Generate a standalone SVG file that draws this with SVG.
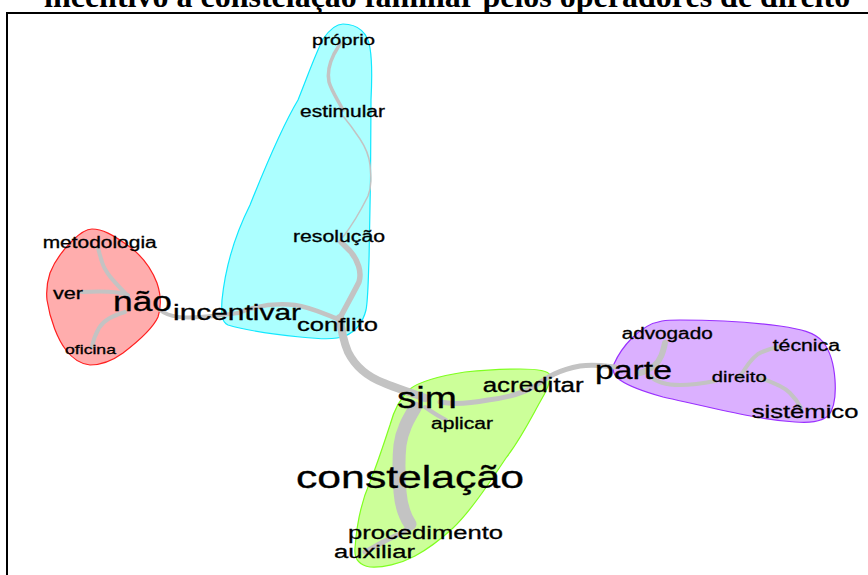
<svg xmlns="http://www.w3.org/2000/svg" width="868" height="575" viewBox="0 0 868 575">
<style>
.t{font-family:"Liberation Sans",Arial,sans-serif;fill:#000;stroke:#000;stroke-width:0.3}
.e{fill:none;stroke:#c3c3c3;stroke-linecap:round;stroke-linejoin:round}
.title{font-family:"Liberation Serif","Times New Roman",serif;font-weight:bold;font-size:32px;fill:#000}
</style>
<rect width="868" height="575" fill="#fff"/>
<text class="title" x="44" y="7">incentivo à constelação familiar pelos operadores de direito</text>
<path d="M7,575 V13 H868" fill="none" stroke="#000" stroke-width="2"/>

<g id="clusters">
<path id="cluster-red" d="M92,229 C102,229 112,234 130,247 C142,256 152,270 157,283 C161,295 161,308 158,317 C153,328 140,340 123,353 C112,361 100,365 90,365 C80,364 72,358 66,350 C58,340 50,320 47,300 C46,290 47,282 50,273 C55,260 63,250 72,241 C78,235 85,229 92,229 Z" fill="#ffadad" stroke="#ff2020" stroke-width="1.2"/>
<path id="cluster-cyan" d="M343,24 C358,24 368,33 370,48 C372,60 372,80 371,100 C371,160 370,220 369,260 C368,285 368,300 366,310 C363,322 357,331 345,336 C335,340 320,339 300,337 C270,334 245,330 228,325 C222,322 221,316 222,300 C225,270 235,235 250,205 C262,175 280,130 298,100 C308,75 315,55 323,39 C330,29 336,24 343,24 Z" fill="#acffff" stroke="#10e8ff" stroke-width="1.2"/>
<path id="cluster-green" d="M520,369 C535,369 548,370 550,375 C551,382 546,392 540,402 C530,420 520,440 506,458 C490,482 470,512 453,528 C440,540 428,549 415,556 C400,564 382,568 370,567 C358,565 354,558 355,548 C357,520 362,500 370,482 C378,462 384,443 390,425 C394,410 400,398 410,389 C420,381 440,376 465,372 C485,370 505,369 520,369 Z" fill="#ccff99" stroke="#80ff20" stroke-width="1.2"/>
<path id="cluster-purple" d="M680,320 C710,320 750,322 780,326 C800,329 815,332 823,342 C831,352 834,365 835,380 C836,395 835,408 828,416 C820,422 810,423 795,422 C780,421 765,419 745,415 C720,410 690,403 663,397 C645,392 630,387 620,380 C614,376 612,370 614,364 C618,355 624,346 632,338 C640,330 650,323 662,321 C668,320 674,320 680,320 Z" fill="#dbb0ff" stroke="#9a30ff" stroke-width="1.2"/>
</g>

<g id="edges">
<path class="e" stroke-width="4" d="M128,296 C118,285 106,275 102,262 C100,256 99,251 98,248"/>
<path class="e" stroke-width="4" d="M128,295 C118,291 100,291 82,292"/>
<path class="e" stroke-width="4" d="M125,312 C112,316 104,320 99,328 C95,335 93,341 92,347"/>
<path class="e" stroke-width="4" d="M160,310 C170,318 185,318 200,317 C220,316 232,314 238,313"/>
<path class="e" stroke-width="4.5" d="M238,313 C255,306 275,303 295,305 C310,307 322,313 338,319"/>
<path class="e" stroke-width="5.5" d="M340,318 C345,308 352,296 359,282 C362,272 358,260 350,251 C346,247 343,244 341,242"/>
<path class="e" stroke-width="1.5" d="M343,237 C350,228 360,212 368,196 C372,186 371,176 370,165 C369,155 366,148 360,139 C354,130 348,122 343,116"/>
<path class="e" stroke-width="3.5" d="M343,110 C338,100 332,92 329,82 C327,72 330,62 334,54 C337,49 339,46 340,43"/>
<path class="e" stroke-width="8" d="M340,318 C341,328 343,340 348,352 C355,366 368,377 384,383 C398,389 410,392 425,398"/>
<path class="e" stroke-width="5" d="M440,402 C455,405 472,403 488,400 C505,398 520,395 535,386 C548,377 558,370 580,366 C595,364 605,366 615,367"/>
<path class="e" stroke-width="4" d="M425,407 C432,412 438,416 446,420"/>
<path class="e" stroke-width="13" d="M415,408 C408,420 402,430 400,445 C398,462 399,478 400,492 C401,505 404,515 410,524"/>
<path class="e" stroke-width="5" d="M410,527 C403,533 395,536 385,541 C378,545 372,548 365,552"/>
<path class="e" stroke-width="6" d="M665,343 C663,352 661,360 654,366 C648,370 644,372 640,373"/>
<path class="e" stroke-width="4" d="M650,376 C655,381 665,385 680,385 C695,385 705,383 715,381"/>
<path class="e" stroke-width="4" d="M740,377 C745,368 750,360 758,354 C765,350 772,348 780,347"/>
<path class="e" stroke-width="4" d="M760,378 C772,382 783,386 790,393 C796,399 799,404 801,408"/>
</g>

<g id="node-proprio"><text class="t" x="312" y="45" font-size="15.2" textLength="63" lengthAdjust="spacingAndGlyphs">próprio</text></g>
<g id="node-estimular"><text class="t" x="300" y="116.7" font-size="15.8" textLength="85" lengthAdjust="spacingAndGlyphs">estimular</text></g>
<g id="node-resolucao"><text class="t" x="293" y="242" font-size="16" textLength="92" lengthAdjust="spacingAndGlyphs">resolução</text></g>
<g id="node-metodologia"><text class="t" x="42.7" y="248" font-size="15.8" textLength="114" lengthAdjust="spacingAndGlyphs">metodologia</text></g>
<g id="node-ver"><text class="t" x="53" y="299" font-size="16" textLength="30" lengthAdjust="spacingAndGlyphs">ver</text></g>
<g id="node-nao"><text class="t" x="113" y="310.7" font-size="27" textLength="59" lengthAdjust="spacingAndGlyphs">não</text></g>
<g id="node-oficina"><text class="t" x="65" y="354" font-size="13.2" textLength="51" lengthAdjust="spacingAndGlyphs">oficina</text></g>
<g id="node-incentivar"><text class="t" x="173" y="320" font-size="22" textLength="128" lengthAdjust="spacingAndGlyphs">incentivar</text></g>
<g id="node-conflito"><text class="t" x="297" y="330.7" font-size="19.2" textLength="81" lengthAdjust="spacingAndGlyphs">conflito</text></g>
<g id="node-sim"><text class="t" x="397" y="408" font-size="29" textLength="60" lengthAdjust="spacingAndGlyphs">sim</text></g>
<g id="node-aplicar"><text class="t" x="431" y="429" font-size="15.8" textLength="62" lengthAdjust="spacingAndGlyphs">aplicar</text></g>
<g id="node-acreditar"><text class="t" x="482.7" y="391.7" font-size="19.5" textLength="101" lengthAdjust="spacingAndGlyphs">acreditar</text></g>
<g id="node-parte"><text class="t" x="595" y="379" font-size="25.4" textLength="77" lengthAdjust="spacingAndGlyphs">parte</text></g>
<g id="node-advogado"><text class="t" x="621.7" y="339" font-size="15.6" textLength="91" lengthAdjust="spacingAndGlyphs">advogado</text></g>
<g id="node-tecnica"><text class="t" x="772.7" y="350.7" font-size="16" textLength="67.3" lengthAdjust="spacingAndGlyphs">técnica</text></g>
<g id="node-direito"><text class="t" x="711.7" y="381.7" font-size="15.2" textLength="55" lengthAdjust="spacingAndGlyphs">direito</text></g>
<g id="node-sistemico"><text class="t" x="751.7" y="418.3" font-size="19.2" textLength="106.7" lengthAdjust="spacingAndGlyphs">sistêmico</text></g>
<g id="node-constelacao"><text class="t" x="296" y="488" font-size="32" textLength="228" lengthAdjust="spacingAndGlyphs">constelação</text></g>
<g id="node-procedimento"><text class="t" x="348" y="539" font-size="19.2" textLength="155" lengthAdjust="spacingAndGlyphs">procedimento</text></g>
<g id="node-auxiliar"><text class="t" x="334" y="558" font-size="19.2" textLength="81" lengthAdjust="spacingAndGlyphs">auxiliar</text></g>
</svg>
